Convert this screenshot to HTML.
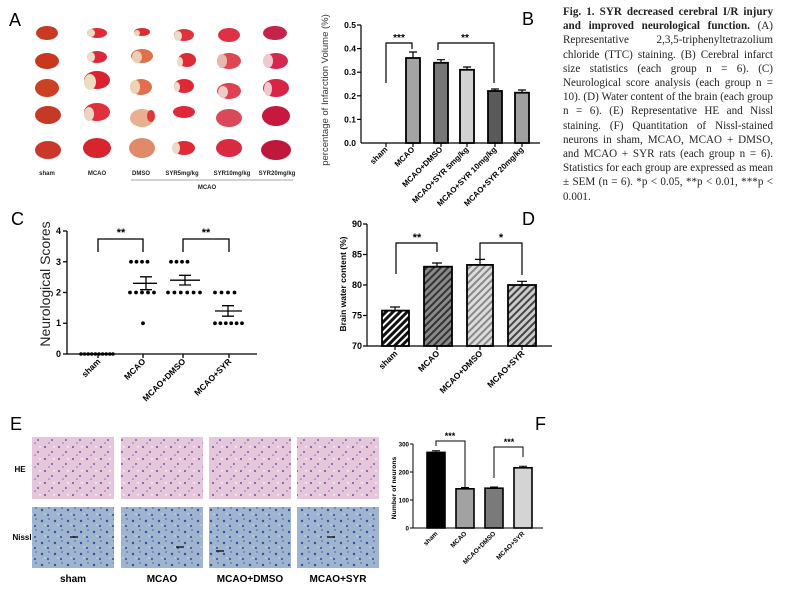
<!DOCTYPE html>
<html><head><meta charset="utf-8"><style>
html,body{margin:0;padding:0;background:#fff;}
#w{position:relative;width:787px;height:589px;overflow:hidden;}
svg{position:absolute;left:0;top:0;}
#cap{position:absolute;left:563px;top:5px;width:210px;font-family:"Liberation Serif",serif;font-size:11.1px;line-height:14.2px;text-align:justify;color:#222;}
</style></head><body><div id="w">
<svg width="787" height="589" viewBox="0 0 787 589" font-family="Liberation Sans, sans-serif">
<defs>
<pattern id="hs" width="5" height="5" patternUnits="userSpaceOnUse" patternTransform="rotate(45)"><rect width="5" height="5" fill="#111"/><rect width="2" height="5" fill="#fff"/></pattern>
<pattern id="hm" width="5" height="5" patternUnits="userSpaceOnUse" patternTransform="rotate(45)"><rect width="5" height="5" fill="#8a8a8a"/><rect width="2" height="5" fill="#333"/></pattern>
<pattern id="hd" width="5" height="5" patternUnits="userSpaceOnUse" patternTransform="rotate(45)"><rect width="5" height="5" fill="#ddd"/><rect width="2" height="5" fill="#888"/></pattern>
<pattern id="hy" width="5" height="5" patternUnits="userSpaceOnUse" patternTransform="rotate(45)"><rect width="5" height="5" fill="#ccc"/><rect width="2" height="5" fill="#444"/></pattern>
<pattern id="he" width="14" height="12" patternUnits="userSpaceOnUse"><rect width="14" height="12" fill="#e6c6da"/><circle cx="3" cy="3" r="1" fill="#6a4fa0"/><circle cx="10" cy="8" r="1" fill="#7a5cb0"/><circle cx="7" cy="11" r="0.8" fill="#8a70c0"/><rect x="11" y="2" width="2" height="1.5" fill="#f4ecf2"/></pattern>
<pattern id="ni" width="13" height="11" patternUnits="userSpaceOnUse"><rect width="13" height="11" fill="#9fb4cf"/><circle cx="3" cy="4" r="1.2" fill="#3050a8"/><circle cx="9" cy="9" r="1" fill="#2848a0"/><circle cx="10" cy="2" r="0.9" fill="#5870b8"/><rect x="5" y="7" width="2" height="2" fill="#b8c6d8"/></pattern>
</defs>

<!-- Panel A -->
<text x="9" y="26" font-size="18">A</text>
<g>
<ellipse cx="47" cy="33" rx="11" ry="7" fill="#c83a22"/>
<ellipse cx="47" cy="61" rx="12" ry="8" fill="#c8381e"/>
<ellipse cx="47" cy="88" rx="12" ry="9" fill="#cc4024"/>
<ellipse cx="48" cy="115" rx="13" ry="9" fill="#c53a24"/>
<ellipse cx="48" cy="150" rx="13" ry="9" fill="#c9382a"/>
<ellipse cx="97" cy="33" rx="10" ry="5" fill="#e02a36"/><ellipse cx="91" cy="33" rx="4" ry="4" fill="#ecd8c4"/>
<ellipse cx="97" cy="57" rx="10" ry="6" fill="#dc2a3a"/><ellipse cx="91" cy="57" rx="4" ry="5" fill="#eedcc8"/>
<ellipse cx="97" cy="80" rx="13" ry="9" fill="#d82232"/><ellipse cx="90" cy="82" rx="6" ry="8" fill="#ecdcc0"/>
<ellipse cx="97" cy="112" rx="13" ry="9" fill="#e0303e"/><ellipse cx="89" cy="114" rx="5" ry="7" fill="#ecd4c0"/>
<ellipse cx="97" cy="148" rx="14" ry="10" fill="#d8242e"/>
<ellipse cx="142" cy="32" rx="8" ry="4" fill="#e02a30"/><ellipse cx="137" cy="33" rx="3" ry="3" fill="#ecd4bc"/>
<ellipse cx="142" cy="56" rx="11" ry="7" fill="#e0704a"/><ellipse cx="137" cy="57" rx="5" ry="6" fill="#ead0b0"/>
<ellipse cx="141" cy="87" rx="11" ry="8" fill="#e27050"/><ellipse cx="135" cy="87" rx="5" ry="7" fill="#ecd4b4"/>
<ellipse cx="142" cy="118" rx="12" ry="9" fill="#e8b090"/><ellipse cx="151" cy="116" rx="4" ry="6" fill="#e03838"/>
<ellipse cx="142" cy="148" rx="13" ry="10" fill="#e08a6a"/>
<ellipse cx="184" cy="35" rx="10" ry="6" fill="#e0303a"/><ellipse cx="178" cy="36" rx="4" ry="5" fill="#eadcc8"/>
<ellipse cx="187" cy="60" rx="9" ry="7" fill="#e02a36"/><ellipse cx="180" cy="62" rx="3" ry="5" fill="#eadcc8"/>
<ellipse cx="184" cy="86" rx="10" ry="7" fill="#e02834"/><ellipse cx="177" cy="87" rx="3" ry="5" fill="#ecdcc8"/>
<ellipse cx="184" cy="112" rx="11" ry="6" fill="#e0283a"/>
<ellipse cx="184" cy="148" rx="11" ry="7" fill="#e02a36"/><ellipse cx="176" cy="148" rx="4" ry="6" fill="#eadcc8"/>
<ellipse cx="229" cy="35" rx="11" ry="7" fill="#e03044"/>
<ellipse cx="229" cy="61" rx="12" ry="8" fill="#de4652"/><ellipse cx="222" cy="61" rx="5" ry="7" fill="#e8b8b0"/>
<ellipse cx="229" cy="91" rx="12" ry="8" fill="#e04050"/><ellipse cx="223" cy="92" rx="5" ry="6" fill="#ecccc4"/>
<ellipse cx="229" cy="118" rx="13" ry="9" fill="#d84a5a"/>
<ellipse cx="229" cy="148" rx="13" ry="9" fill="#d82a40"/>
<ellipse cx="275" cy="33" rx="12" ry="7" fill="#c4244a"/>
<ellipse cx="276" cy="61" rx="12" ry="8" fill="#d42850"/><ellipse cx="268" cy="61" rx="5" ry="7" fill="#eccad0"/>
<ellipse cx="276" cy="88" rx="13" ry="9" fill="#d82446"/><ellipse cx="268" cy="89" rx="4" ry="7" fill="#ecc8cc"/>
<ellipse cx="276" cy="116" rx="14" ry="10" fill="#c8183e"/>
<ellipse cx="276" cy="150" rx="15" ry="10" fill="#c0183c"/>
</g>
<g font-size="6" font-weight="bold" text-anchor="middle" fill="#222">
<text x="47" y="175">sham</text><text x="97" y="175">MCAO</text><text x="141" y="175">DMSO</text><text x="182" y="175">SYR5mg/kg</text><text x="232" y="175">SYR10mg/kg</text><text x="277" y="175">SYR20mg/kg</text>
<text x="207" y="189">MCAO</text></g>
<line x1="131" y1="180" x2="293" y2="180" stroke="#888" stroke-width="0.8"/>

<!-- Panel B -->
<text x="522" y="25" font-size="18">B</text>
<g stroke="#000" stroke-width="1.2" fill="none">
<line x1="361" y1="25" x2="361" y2="143"/><line x1="361" y1="143" x2="540" y2="143"/>
<line x1="357" y1="25" x2="361" y2="25"/><line x1="357" y1="48.6" x2="361" y2="48.6"/><line x1="357" y1="72.2" x2="361" y2="72.2"/><line x1="357" y1="95.8" x2="361" y2="95.8"/><line x1="357" y1="119.4" x2="361" y2="119.4"/>
<line x1="386" y1="143" x2="386" y2="147"/><line x1="413" y1="143" x2="413" y2="147"/><line x1="441" y1="143" x2="441" y2="147"/><line x1="467" y1="143" x2="467" y2="147"/><line x1="495" y1="143" x2="495" y2="147"/><line x1="522" y1="143" x2="522" y2="147"/>
</g>
<g font-size="8.5" font-weight="bold" text-anchor="end"><text x="356" y="28">0.5</text><text x="356" y="51.6">0.4</text><text x="356" y="75.2">0.3</text><text x="356" y="98.8">0.2</text><text x="356" y="122.4">0.1</text><text x="356" y="146">0.0</text></g>
<text transform="translate(328,90) rotate(-90)" font-size="9.5" text-anchor="middle" fill="#333">percentage of Infarction Volume (%)</text>
<g stroke="#000" stroke-width="1.8">
<rect x="406" y="58" width="14" height="85" fill="#a4a4a4"/>
<rect x="434" y="62.8" width="14" height="80.2" fill="#777"/>
<rect x="460" y="69.8" width="14" height="73.2" fill="#d2d2d2"/>
<rect x="488" y="91" width="14" height="52" fill="#5a5a5a"/>
<rect x="515" y="92.7" width="14" height="50.3" fill="#a0a0a0"/>
</g>
<g stroke="#000" stroke-width="1.2" fill="none">
<path d="M413 58V52M409 52H417"/><path d="M441 62.8V59.7M437 59.7H445"/><path d="M467 69.8V67M463 67H471"/><path d="M495 91V89M491 89H499"/><path d="M522 92.7V90M518 90H526"/>
<path d="M386 83V43H412V49"/><path d="M438 50V43H494V83"/>
</g>
<g font-size="10" font-weight="bold" text-anchor="middle"><text x="399" y="41">***</text><text x="465" y="41">**</text></g>
<g font-size="8" font-weight="bold" text-anchor="end">
<text transform="translate(388,150) rotate(-45)">sham</text>
<text transform="translate(415,150) rotate(-45)">MCAO</text>
<text transform="translate(443,150) rotate(-45)">MCAO+DMSO</text>
<text transform="translate(469,150) rotate(-45)">MCAO+SYR 5mg/kg</text>
<text transform="translate(497,150) rotate(-45)">MCAO+SYR 10mg/kg</text>
<text transform="translate(524,150) rotate(-45)">MCAO+SYR 20mg/kg</text>
</g>

<!-- Panel C -->
<text x="11" y="225" font-size="18">C</text>
<g stroke="#000" stroke-width="1.3" fill="none">
<line x1="67" y1="231" x2="67" y2="354"/><line x1="67" y1="354" x2="257" y2="354"/>
<path d="M63 231H67M63 261.75H67M63 292.5H67M63 323.25H67M63 354H67"/>
<path d="M98 354V358M143 354V358M183 354V358M229 354V358"/>
<path d="M98 252V239H143V252"/><path d="M183 252V239H229V252"/>
<path d="M80 354H114"/>
<path d="M133 283.3H157M140 276.8H152M140 289.7H152M146 276.8V289.7"/>
<path d="M170 280.2H200M179 275.3H191M179 285H191M185 275.3V285"/>
<path d="M215 311H242M222 305.7H234M222 316.2H234M228 305.7V316.2"/>
</g>
<g font-size="9" font-weight="bold" text-anchor="end"><text x="61" y="234">4</text><text x="61" y="265">3</text><text x="61" y="295.5">2</text><text x="61" y="326">1</text><text x="61" y="357">0</text></g>
<text transform="translate(50,284) rotate(-90)" font-size="14" text-anchor="middle" fill="#222">Neurological Scores</text>
<g font-size="11" font-weight="bold" text-anchor="middle"><text x="121" y="236">**</text><text x="206" y="236">**</text></g>
<g fill="#000">
<circle cx="81" cy="354" r="1.8"/><circle cx="84.6" cy="354" r="1.8"/><circle cx="88.2" cy="354" r="1.8"/><circle cx="91.8" cy="354" r="1.8"/><circle cx="95.4" cy="354" r="1.8"/><circle cx="99" cy="354" r="1.8"/><circle cx="102.6" cy="354" r="1.8"/><circle cx="106.2" cy="354" r="1.8"/><circle cx="109.8" cy="354" r="1.8"/><circle cx="113" cy="354" r="1.8"/>
<circle cx="131" cy="261.75" r="1.9"/><circle cx="136.5" cy="261.75" r="1.9"/><circle cx="142" cy="261.75" r="1.9"/><circle cx="147.5" cy="261.75" r="1.9"/>
<circle cx="130" cy="292.5" r="1.9"/><circle cx="136" cy="292.5" r="1.9"/><circle cx="142" cy="292.5" r="1.9"/><circle cx="148" cy="292.5" r="1.9"/><circle cx="154" cy="292.5" r="1.9"/>
<circle cx="143" cy="323.25" r="1.9"/>
<circle cx="171" cy="261.75" r="1.9"/><circle cx="176.5" cy="261.75" r="1.9"/><circle cx="182" cy="261.75" r="1.9"/><circle cx="187.5" cy="261.75" r="1.9"/>
<circle cx="168" cy="292.5" r="1.9"/><circle cx="174.4" cy="292.5" r="1.9"/><circle cx="180.8" cy="292.5" r="1.9"/><circle cx="187.2" cy="292.5" r="1.9"/><circle cx="193.6" cy="292.5" r="1.9"/><circle cx="200" cy="292.5" r="1.9"/>
<circle cx="215" cy="292.5" r="1.9"/><circle cx="221.5" cy="292.5" r="1.9"/><circle cx="228" cy="292.5" r="1.9"/><circle cx="234.5" cy="292.5" r="1.9"/>
<circle cx="215" cy="323.25" r="1.9"/><circle cx="220.4" cy="323.25" r="1.9"/><circle cx="225.8" cy="323.25" r="1.9"/><circle cx="231.2" cy="323.25" r="1.9"/><circle cx="236.6" cy="323.25" r="1.9"/><circle cx="242" cy="323.25" r="1.9"/>
</g>
<g font-size="8.5" font-weight="bold" text-anchor="end">
<text transform="translate(101,362) rotate(-45)">sham</text>
<text transform="translate(146,362) rotate(-45)">MCAO</text>
<text transform="translate(186,362) rotate(-45)">MCAO+DMSO</text>
<text transform="translate(232,362) rotate(-45)">MCAO+SYR</text>
</g>

<!-- Panel D -->
<text x="522" y="225" font-size="18">D</text>
<g stroke="#000" stroke-width="1.8">
<rect x="382" y="310.6" width="27" height="35.4" fill="url(#hs)"/>
<rect x="424" y="266.7" width="28" height="79.3" fill="url(#hm)"/>
<rect x="467" y="264.9" width="26" height="81.1" fill="url(#hd)"/>
<rect x="508" y="285" width="28" height="61" fill="url(#hy)"/>
</g>
<g stroke="#000" stroke-width="1.2" fill="none">
<line x1="367" y1="224" x2="367" y2="346"/><line x1="367" y1="346" x2="552" y2="346"/>
<path d="M363 224H367M363 254.5H367M363 285H367M363 315.5H367M363 346H367"/>
<path d="M395 346V350M437 346V350M480 346V350M522 346V350"/>
<path d="M395 310.6V307M390 307H400"/><path d="M437 266.7V263M432 263H442"/><path d="M480 264.9V259.4M475 259.4H485"/><path d="M522 285V281.3M517 281.3H527"/>
<path d="M396 274V243H437V252"/><path d="M480 259V243H522V275"/>
</g>
<g font-size="9" font-weight="bold" text-anchor="end"><text x="362" y="227">90</text><text x="362" y="257.5">85</text><text x="362" y="288">80</text><text x="362" y="318.5">75</text><text x="362" y="349">70</text></g>
<text transform="translate(346,284) rotate(-90)" font-size="8.5" font-weight="bold" text-anchor="middle">Brain water content (%)</text>
<g font-size="11" font-weight="bold" text-anchor="middle"><text x="417" y="241">**</text><text x="501" y="241">*</text></g>
<g font-size="8.5" font-weight="bold" text-anchor="end">
<text transform="translate(398,354) rotate(-45)">sham</text>
<text transform="translate(440,354) rotate(-45)">MCAO</text>
<text transform="translate(483,354) rotate(-45)">MCAO+DMSO</text>
<text transform="translate(525,354) rotate(-45)">MCAO+SYR</text>
</g>

<!-- Panel E -->
<text x="10" y="430" font-size="18">E</text>
<rect x="32" y="437" width="82" height="62" fill="url(#he)"/>
<rect x="121" y="437" width="82" height="62" fill="url(#he)"/>
<rect x="209" y="437" width="82" height="62" fill="url(#he)"/>
<rect x="297" y="437" width="82" height="62" fill="url(#he)"/>
<rect x="32" y="507" width="82" height="61" fill="url(#ni)"/>
<rect x="121" y="507" width="82" height="61" fill="url(#ni)"/>
<rect x="209" y="507" width="82" height="61" fill="url(#ni)"/>
<rect x="297" y="507" width="82" height="61" fill="url(#ni)"/>
<g stroke="#000" stroke-width="1.3"><path d="M70 537H78M176 547H184M216 551H224M327 537H335"/></g>
<g font-size="8" font-weight="bold" text-anchor="middle"><text x="20" y="472">HE</text><text x="22" y="540">Nissl</text></g>
<g font-size="10" font-weight="bold" text-anchor="middle"><text x="73" y="582">sham</text><text x="162" y="582">MCAO</text><text x="250" y="582">MCAO+DMSO</text><text x="338" y="582">MCAO+SYR</text></g>

<!-- Panel F -->
<text x="535" y="430" font-size="18">F</text>
<g stroke="#000" stroke-width="1.6">
<rect x="427" y="452.4" width="18" height="75.6" fill="#000"/>
<rect x="456" y="488.8" width="18" height="39.2" fill="#a2a2a2"/>
<rect x="485" y="488.2" width="18" height="39.8" fill="#7a7a7a"/>
<rect x="514" y="467.8" width="18" height="60.2" fill="#d4d4d4"/>
</g>
<g stroke="#000" stroke-width="1" fill="none">
<line x1="413" y1="444" x2="413" y2="528"/><line x1="413" y1="528" x2="543" y2="528"/>
<path d="M410 444H413M410 472H413M410 500H413M410 528H413"/>
<path d="M436 452.4V450.7M432 450.7H440M465 488.8V487.5M461 487.5H469M494 488.2V487M490 487H498M523 467.8V466.3M519 466.3H527"/>
<path d="M436 446V441H465V487"/><path d="M494 478V447H523V457"/>
</g>
<g font-size="6.2" font-weight="bold" text-anchor="end"><text x="409" y="446.5">300</text><text x="409" y="474.5">200</text><text x="409" y="502.5">100</text><text x="409" y="530.5">0</text></g>
<text transform="translate(396,488) rotate(-90)" font-size="6.8" font-weight="bold" text-anchor="middle">Number of neurons</text>
<g font-size="9" font-weight="bold" text-anchor="middle"><text x="450" y="439">***</text><text x="509" y="445">***</text></g>
<g font-size="6.5" font-weight="bold" text-anchor="end">
<text transform="translate(438,534) rotate(-45)">sham</text>
<text transform="translate(467,534) rotate(-45)">MCAO</text>
<text transform="translate(496,534) rotate(-45)">MCAO+DMSO</text>
<text transform="translate(525,534) rotate(-45)">MCAO+SYR</text>
</g>
</svg>
<div id="cap"><b>Fig. 1. SYR decreased cerebral I/R injury and improved neurological function.</b> (A) Representative 2,3,5-triphenyltetrazolium chloride (TTC) staining. (B) Cerebral infarct size statistics (each group n = 6). (C) Neurological score analysis (each group n = 10). (D) Water content of the brain (each group n = 6). (E) Representative HE and Nissl staining. (F) Quantitation of Nissl-stained neurons in sham, MCAO, MCAO + DMSO, and MCAO + SYR rats (each group n = 6). Statistics for each group are expressed as mean ± SEM (n = 6). *p &lt; 0.05, **p &lt; 0.01, ***p &lt; 0.001.</div>
</div></body></html>
